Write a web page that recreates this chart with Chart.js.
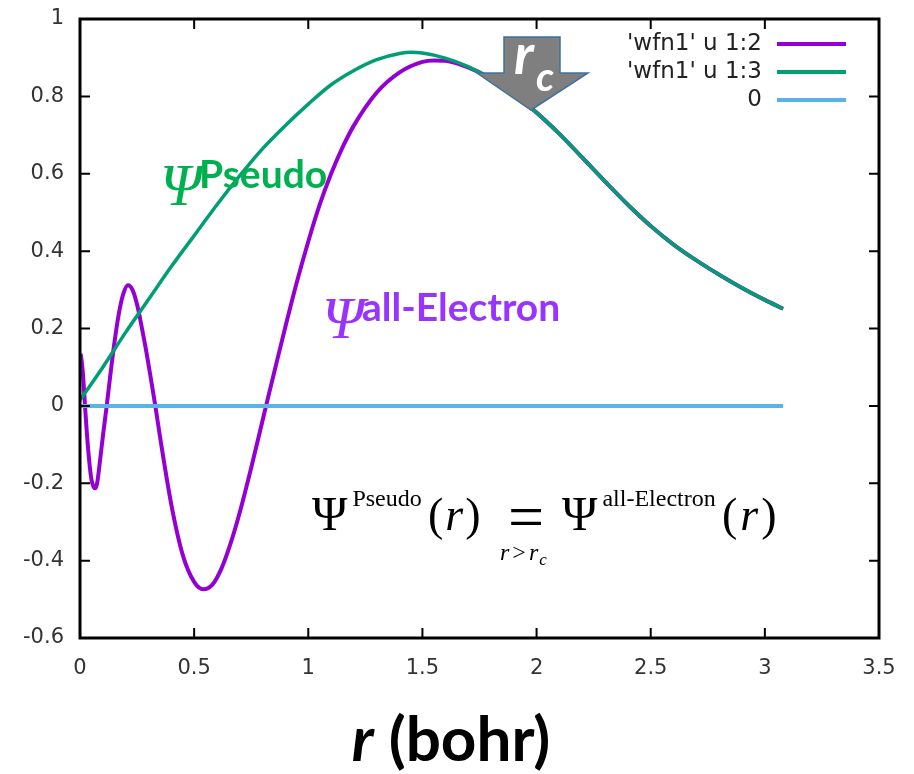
<!DOCTYPE html>
<html lang="en">
<head>
  <meta charset="UTF-8">
  <title>Pseudo vs all-electron wavefunction</title>
  <script src="https://cdn.jsdelivr.net/npm/chart.js"></script>
  <style>
    body { margin: 0; background: #fff; }
    #wfnChart { display: block; }
  </style>
</head>
<body>
  <canvas id="wfnChart" width="914" height="774"></canvas>

  <script>
    // 'wfn1' u 1:2  (all-electron)
    const rAE = [0.003, 0.012, 0.022, 0.03, 0.04, 0.05, 0.06, 0.066, 0.075, 0.085, 0.1, 0.117,
      0.13, 0.15, 0.17, 0.19, 0.21, 0.23, 0.25, 0.27, 0.29, 0.31, 0.33, 0.35, 0.4, 0.45, 0.5,
      0.54, 0.58, 0.62, 0.66, 0.7, 0.75, 0.8, 0.815, 0.85, 0.9, 0.95, 1.0, 1.05, 1.1, 1.15, 1.2, 1.3, 1.4,
      1.5, 1.55, 1.6, 1.7, 1.8, 1.9, 2.0, 2.1, 2.2, 2.3, 2.4, 2.5, 2.6, 2.7, 2.8, 2.9, 3.0, 3.08];
    const psiAE = [0.135, 0.09, 0.0, -0.07, -0.14, -0.19, -0.21, -0.213, -0.2, -0.155, -0.08, 0.0,
      0.065, 0.16, 0.238, 0.29, 0.312, 0.30, 0.262, 0.205, 0.142, 0.072, 0.0, -0.078, -0.255, -0.385, -0.455,
      -0.474, -0.462, -0.42, -0.355, -0.275, -0.16, -0.037, 0.0, 0.085, 0.205, 0.32, 0.425, 0.52, 0.60, 0.668, 0.725, 0.81, 0.862,
      0.889, 0.893, 0.892, 0.875, 0.846, 0.806, 0.758, 0.703, 0.642, 0.58, 0.52, 0.465, 0.417, 0.376, 0.339, 0.305, 0.274, 0.251];

    // 'wfn1' u 1:3  (pseudo)
    const rPS = [0, 0.1, 0.2, 0.3, 0.4, 0.5, 0.6, 0.7, 0.8, 0.9, 1.0, 1.1,
      1.2, 1.3, 1.4, 1.45, 1.5, 1.6, 1.7, 1.8, 1.9, 2.0, 2.1, 2.2, 2.3, 2.4, 2.5, 2.6, 2.7, 2.8, 2.9, 3.0, 3.08];
    const psiPS = [0.015, 0.10, 0.19, 0.275, 0.36, 0.44, 0.52, 0.595, 0.665, 0.725, 0.78, 0.83,
      0.867, 0.895, 0.911, 0.914, 0.912, 0.899, 0.877, 0.846, 0.806, 0.758, 0.703, 0.642, 0.58, 0.52, 0.465, 0.417, 0.376, 0.339, 0.305, 0.274, 0.251];

    // 0
    const rZero = [0, 3.08];
    const psiZero = [0, 0];

    const seriesNames = ["'wfn1' u 1:2", "'wfn1' u 1:3", "0"];
    const seriesColors = ['#9400d3', '#009e73', '#56b4e9'];

    const toPts = (xs, ys) => xs.map((v, i) => ({ x: v, y: ys[i] }));
    const fmt = v => String(Number(v.toFixed(1)));

    // 枠・内向き目盛り・凡例
    const frame = {
      id: 'frame',
      afterDatasetsDraw(chart) {
        const { ctx, chartArea: a, scales } = chart;
        ctx.save();
        ctx.strokeStyle = '#000';
        ctx.lineWidth = 2;
        ctx.beginPath();
        scales.x.ticks.forEach(t => {
          const px = scales.x.getPixelForValue(t.value);
          ctx.moveTo(px, a.bottom); ctx.lineTo(px, a.bottom - 10);
          ctx.moveTo(px, a.top); ctx.lineTo(px, a.top + 10);
        });
        scales.y.ticks.forEach(t => {
          const py = scales.y.getPixelForValue(t.value);
          ctx.moveTo(a.left, py); ctx.lineTo(a.left + 10, py);
          ctx.moveTo(a.right, py); ctx.lineTo(a.right - 10, py);
        });
        ctx.stroke();
        ctx.lineWidth = 3;
        ctx.strokeRect(a.left, a.top, a.right - a.left, a.bottom - a.top);

        // legend
        ctx.font = '23px "DejaVu Sans"';
        ctx.fillStyle = '#222';
        ctx.textAlign = 'right';
        ctx.textBaseline = 'middle';
        seriesNames.forEach((name, i) => {
          const yy = 44 + i * 28;
          ctx.fillText(name, 762, yy);
          ctx.strokeStyle = seriesColors[i];
          ctx.lineWidth = 4;
          ctx.beginPath();
          ctx.moveTo(777, yy); ctx.lineTo(846, yy);
          ctx.stroke();
        });
        ctx.restore();
      },
      afterDraw(chart) {
        const ctx = chart.ctx;
        ctx.save();
        ctx.textAlign = 'left';
        ctx.textBaseline = 'alphabetic';

        // r_c arrow
        ctx.beginPath();
        ctx.moveTo(504, 37); ctx.lineTo(560, 37); ctx.lineTo(560, 73); ctx.lineTo(588, 73);
        ctx.lineTo(531, 110); ctx.lineTo(477, 73); ctx.lineTo(504, 73); ctx.closePath();
        ctx.fillStyle = '#7f7f7f';
        ctx.fill();
        ctx.strokeStyle = '#41719c';
        ctx.lineWidth = 1.5;
        ctx.stroke();
        ctx.fillStyle = '#fff';
        ctx.font = 'italic bold 56px Lato';
        ctx.fillText('r', 514, 74);
        ctx.font = 'italic bold 40px Lato';
        ctx.fillText('c', 536, 91);

        // Ψ Pseudo
        ctx.fillStyle = '#00b050';
        ctx.font = 'italic 60px "Liberation Serif"';
        ctx.fillText('Ψ', 160, 205);
        ctx.font = 'bold 39px Lato';
        ctx.fillText('Pseudo', 199, 188);

        // Ψ all-Electron
        ctx.fillStyle = '#9933ff';
        ctx.font = 'italic 60px "Liberation Serif"';
        ctx.fillText('Ψ', 322, 338);
        ctx.font = 'bold 39px Lato';
        ctx.fillText('all-Electron', 362, 321);

        // formula
        ctx.fillStyle = '#000';
        const big = '46px "Liberation Serif"';
        const bigIt = 'italic 46px "Liberation Serif"';
        const sup = '24px "Liberation Serif"';
        const put = (txt, font, x, y) => { ctx.font = font; ctx.fillText(txt, x, y); return x + ctx.measureText(txt).width; };
        let cx = put('Ψ', '48px "Liberation Serif"', 312, 530);
        put('Pseudo', sup, cx + 5, 506);
        cx = put('(', big, 428, 530);
        cx = put('r', bigIt, cx + 2, 530);
        put(')', big, cx + 2, 530);
        put('=', '64px "Liberation Serif"', 508, 538);
        cx = put('r', 'italic 24px "Liberation Serif"', 500, 560);
        cx = put('>', '24px "Liberation Serif"', cx + 3, 560);
        cx = put('r', 'italic 24px "Liberation Serif"', cx + 3, 560);
        put('c', 'italic 17px "Liberation Serif"', cx + 1, 565);
        cx = put('Ψ', '48px "Liberation Serif"', 562, 530);
        put('all-Electron', sup, cx + 5, 506);
        cx = put('(', big, 722, 530);
        cx = put('r', bigIt, cx + 3, 530);
        put(')', big, cx + 3, 530);

        // x title
        ctx.fillStyle = '#000';
        ctx.font = 'italic bold 62px Lato';
        const wr = ctx.measureText('r').width;
        ctx.font = 'bold 62px Lato';
        const wb = ctx.measureText(' (bohr)').width;
        const x0 = 451 - (wr + wb) / 2;
        ctx.font = 'italic bold 62px Lato';
        ctx.fillText('r', x0, 761);
        ctx.font = 'bold 62px Lato';
        ctx.fillText(' (bohr)', x0 + wr, 761);
        ctx.restore();
      }
    };

    const tickFont = { family: 'DejaVu Sans', size: 21 };

    new Chart(document.getElementById('wfnChart'), {
      type: 'line',
      data: {
        datasets: [
          { label: seriesNames[0], data: toPts(rAE, psiAE), borderColor: seriesColors[0], borderWidth: 4, order: 3 },
          { label: seriesNames[1], data: toPts(rPS, psiPS), borderColor: seriesColors[1], borderWidth: 3.5, order: 2 },
          { label: seriesNames[2], data: toPts(rZero, psiZero), borderColor: seriesColors[2], borderWidth: 4, order: 1 }
        ]
      },
      options: {
        responsive: false,
        animation: false,
        devicePixelRatio: 1,
        layout: { padding: { top: 19, right: 35, left: 0, bottom: 0 } },
        elements: {
          point: { radius: 0 },
          line: { cubicInterpolationMode: 'monotone', fill: false }
        },
        plugins: { legend: { display: false }, tooltip: { enabled: false } },
        scales: {
          x: {
            type: 'linear', min: 0, max: 3.5,
            grid: { display: false, drawTicks: false },
            border: { display: false },
            ticks: { stepSize: 0.5, font: tickFont, color: '#333', padding: 18, maxRotation: 0, callback: fmt },
            afterFit: s => { s.height = 136; s.paddingLeft = 0; s.paddingRight = 0; }
          },
          y: {
            min: -0.6, max: 1,
            grid: { display: false, drawTicks: false },
            border: { display: false },
            ticks: { stepSize: 0.2, font: tickFont, color: '#333', padding: 16, callback: fmt },
            afterFit: s => { s.width = 80; s.paddingTop = 0; s.paddingBottom = 0; }
          }
        }
      },
      plugins: [frame]
    });
  </script>
</body>
</html>
